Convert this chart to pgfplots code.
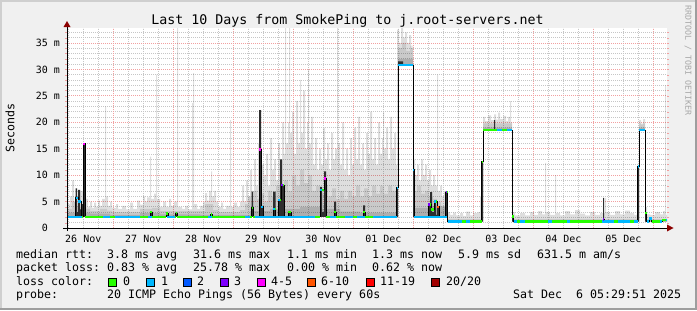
\documentclass[border=0pt]{standalone}
\usepackage{pgfplots}
\pgfplotsset{compat=1.18}
\usepackage{pgfplotstable}
\usepgfplotslibrary{fillbetween}
\usetikzlibrary{arrows.meta}
\usepackage{fontspec}
\setmainfont{DejaVu Sans Mono}
\newfontfamily\mono{DejaVu Sans Mono}
\newcommand\legfont{\mono\fontsize{11.63bp}{13bp}\selectfont}
\newcommand\titfont{\mono\fontsize{13.29bp}{15bp}\selectfont}
\newcommand\tickfont{\mono\fontsize{9.97bp}{11bp}\selectfont}
\newcommand\wmfont{\mono\fontsize{8.3bp}{9bp}\selectfont}

\definecolor{backc}{HTML}{F0F0F0}
\definecolor{shadea}{HTML}{CFCFCF}
\definecolor{shadeb}{HTML}{9E9E9E}
\definecolor{mgridc}{HTML}{F2A0A0}
\definecolor{gridc}{HTML}{C6C6C6}
\definecolor{arrowc}{HTML}{8B0000}
\definecolor{smokeD}{HTML}{2E2E2E}
\definecolor{loss0}{HTML}{26FF00}
\definecolor{loss1}{HTML}{00B8FF}
\definecolor{loss2}{HTML}{0059FF}
\definecolor{loss3}{HTML}{7E00FF}
\definecolor{loss5}{HTML}{FF00FF}
\definecolor{loss10}{HTML}{FF5500}
\definecolor{loss19}{HTML}{FF0000}
\definecolor{loss20}{HTML}{A10000}
\definecolor{wmc}{HTML}{A8A8A8}
\pagecolor{backc}

% x = hours since Nov 26 05:30, y = ms
% floor of the smoke
\pgfplotstableread{
x y
0 2.1
132.4 30.8
138.4 2.1
152.2 1.2
166.4 18.5
178 1.2
228.8 18.5
231.2 1.2
240 1.2
}\tB

% lightest smoke (highest pings)
\pgfplotstableread{
x y
0 4.5
1.2 6
2 9
2.8 5
3.2 6
5.2 7
6.4 6
7.6 5.5
8.4 4
9.2 5
10 3.8
10.8 4.8
11.6 4
12.4 5.2
13.2 4.2
14 5.5
15.2 23
15.6 6
16.4 4.2
17.2 5
18 3.8
19.6 4.5
20.4 3.6
22 4.2
23.6 3.5
25.2 4.8
26.4 3.6
28 5.2
29.2 4.4
30.4 6
31.2 5
32 5.8
33.2 13.5
33.6 5.5
34.8 6.5
35.6 29
36 5.5
37.2 4
38.4 5
39.6 4
40.8 5.5
41.6 4.2
42.8 5
44 37.8
44.4 4
46 3.6
47.2 4.2
48.4 3.5
50 23.6
50.4 29.3
50.8 4.5
52 3.6
53.2 4.2
54.4 5
55.2 6.6
56 5.2
56.8 7
57.6 10.7
58 6
58.8 7
59.6 5
60.4 4
61.6 4.8
62.4 3.6
63.6 4.2
65.2 20.4
65.6 4
66.8 4.8
68 4
69.2 5
70 8
70.8 5
71.6 9
72.4 6
73.2 11
74 7
74.8 13
75.6 8
76.4 16
77.2 9
78 12
78.8 10
79.6 14
80.4 8
81.2 17
82 11
82.8 13
83.6 9
84.4 16
85.2 12
86 20
86.8 14
87.2 37.8
87.6 16
88.4 20
88.8 37.8
89.2 18
90 22
90.8 14
91.6 24
92.4 16
93.2 28
93.6 18
94.4 26
95.2 15
96 20
96.4 30
96.8 16
97.6 21
98.4 12
99.2 17
100 11
100.8 15
101.6 12
102.4 19
103.2 13
104 16
104.8 11
105.6 18
106.4 13
107.2 15
108 37.8
108.4 16
109.2 12
110 20
110.8 11
111.6 15
112.4 10
113.2 17
114 12
114.8 19
115.6 13
116.4 21
117.2 12
118 16
118.8 11
119.6 18
120.4 14
121.2 22
122 13
122.8 17
123.6 12
124.4 20
125.2 14
126 17
126.4 22
126.8 15
127.6 19
128.4 13
129.2 21
130 15
130.8 18
131.6 12
132 37.5
132.8 35
133.6 37.8
134.4 36
135.2 37
136 35
136.8 36.5
137.6 34
138.4 13
139.2 10
140 12
140.8 9
141.6 13
142.4 10
143.2 12
144 9
144.8 11
145.6 8
146.4 10
147.2 8
148 29
148.4 7
149.2 8
150 6
150.8 7
151.6 5
152.2 3
153.2 2.5
154.4 2.9
155.6 2.4
157.2 2.8
158.4 2.3
159.6 3.1
161.2 2.4
162.4 2.8
164.4 3
165.2 6
166 12.5
166.4 21
167.2 20.2
168.4 21.3
169.6 20.4
170.8 21.5
171.6 20.5
172.4 21.8
173.2 20.6
174.4 21.2
175.6 20.2
176.4 21
177.2 24
177.6 20
178 3
179.2 2.4
181.2 2.8
183.2 2.4
185.2 3
186.8 2.5
188.4 3.2
190 2.6
191.2 12.3
191.6 3
193.2 2.5
195.2 10
195.6 2.8
197.2 2.4
199.2 3.2
201.2 2.6
203.2 3.4
205.2 2.7
207.2 2.4
209.2 3
211.2 2.5
213.2 2.8
215.2 5.7
215.6 3
217.2 2.5
219.2 3.2
221.2 2.6
223.2 3.3
225.2 2.8
226.8 2.5
228 5
228.4 12
228.8 20.4
229.6 19.6
230.4 20.6
231.2 4
232 2.6
233.2 2.5
235.2 3
237.2 2.6
238.4 3.2
239.2 27
239.6 2.5
240 2.5
}\tLL

% light smoke
\pgfplotstableread{
x y
0 3.6
2 5
3.2 4
7.6 3.6
9.2 3.2
13.2 3.6
16 3.3
18 3
29.2 3.6
34 3.8
37.2 3.2
53.2 3.2
55.2 4.5
58.4 3.4
60.4 3
69.2 3.4
71.2 4.5
72.4 6
73.6 5
74.8 7
76 5.5
77.2 6.5
78.8 5
80.4 7
82 6
83.6 8
85.2 6.5
86.8 9
88.4 7
90 10
91.6 8
93.2 11
94.8 8.5
96.4 10
98 7
99.6 8
101.2 6.5
102.8 8
104.4 6
106 7.5
107.6 5.5
109.2 7
110.8 5.5
112.4 7
114 6
115.6 8
117.2 6
118.8 7.5
120.4 6
122 8
123.6 6.5
125.2 8
126.8 6.5
128.4 8
130 7
131.6 6
132.4 34
134 35
135.6 33.5
137.2 34.5
138.4 7
140 8
141.6 6.5
143.2 7
144.8 6
146.4 5.5
148 5
149.6 4
151.2 3.5
152.2 1.7
166.4 19.8
178 1.7
228.8 19.8
231.2 1.7
240 1.7
}\tL

% mid smoke near median
\pgfplotstableread{
x y
0 2.9
9.2 2.7
17.2 2.5
29.2 2.8
37.2 2.6
53.2 2.5
73.2 3.2
81.2 3.6
93.2 4.0
101.2 3.6
109.2 3.1
117.2 2.9
132.4 32
138.4 3.8
145.2 4.2
152.2 1.5
166.4 19
178 1.5
228.8 19
231.2 1.5
240 1.5
}\tM

% dark smoke
\pgfplotstableread{
x y
0 2.1
3.4 7.5
4 3
4.4 7.2
5.2 3.5
5.6 4.5
6.4 16
7.2 2.1
33.2 3.2
34 2.1
39.6 2.8
40.4 2.1
43.4 2.8
44 2.1
57.4 2.6
58 2.1
73.8 6.9
74.4 2.1
76.8 22.3
77.6 4.2
78.4 2.1
82.4 6.9
83.4 2.1
84.4 5.3
85.2 13
86 8.1
86.8 2.1
88.4 3
89.6 2.1
101.2 7.8
102 3
102.8 10.7
103.6 2.1
106.8 5
107.6 2.1
118.4 4.3
119.2 2.1
131.8 7.6
132.4 31.5
134.4 30.8
138.4 11
138.8 2.1
144.4 4.5
145.2 6.8
146 3
146.8 5
147.6 2.5
148 4
148.8 2.1
151.4 6.8
152.2 1.2
165.8 12.5
166.4 18.5
170.8 20.4
171.2 18.5
178 2.2
178.6 1.2
214.4 5.7
214.8 1.2
228.2 11.6
228.8 18.5
231.2 2.8
231.8 1.2
240 1.2
}\tD

% median rtt
\pgfplotstableread{
x y
0 2.1
3.4 5.7
4.4 5.0
5.6 2.1
6.4 15.9
7.2 2.1
33.2 3
34 2.1
39.6 2.7
40.4 2.1
43.4 2.8
44 2.1
57.4 2.6
58 2.1
73.8 3.8
74.4 2.1
76.8 14.8
77.6 4
78.4 2.1
82.4 3.6
83.4 2.1
84.4 5.3
85.6 8.1
86.8 2.1
88.4 3
89.6 2.1
101.2 7.2
102.8 9.4
103.6 2.1
106.8 3
107.6 2.1
118.4 3
119.2 2.1
131.8 7.6
132.4 30.8
138.4 11
138.8 2.1
144.4 4.5
145.6 3.5
146.8 5
148 4
148.8 2.1
151.4 6.8
152.2 1.2
165.8 12.5
166.4 18.5
178 2.2
178.6 1.2
214.4 1.6
214.8 1.2
228.2 11.6
228.8 18.5
231.2 2.8
231.8 1.2
232.8 1.8
233.8 1.2
238 1.5
240 1.5
}\tMed

% median segments with 1 lost ping
\pgfplotstableread{
x y
0 2.1
6 2.1
6 nan
3.4 5.7
4.2 5.7
4.2 nan
4.4 5.0
5.4 5.0
5.4 nan
14.4 2.1
17.2 2.1
17.2 nan
19.2 2.1
29.2 2.1
29.2 nan
32.4 2.1
34 2.1
34 nan
40 2.1
43.2 2.1
43.2 nan
56.4 2.1
58 2.1
58 nan
71.2 2.1
73.2 2.1
73.2 nan
75.2 2.1
99.2 2.1
99.2 nan
77.6 4
78.2 4
78.2 nan
82.4 3.6
83.2 3.6
83.2 nan
84.4 5.3
85.2 5.3
85.2 nan
101.2 7.2
102 7.2
102 nan
105.2 2.1
107.6 2.1
107.6 nan
111.2 2.1
114.4 2.1
114.4 nan
116 2.1
119.2 2.1
119.2 nan
122.4 2.1
131.8 2.1
131.8 nan
131.8 7.6
132.4 7.6
132.4 nan
132.4 30.8
138.4 30.8
138.4 nan
138.4 11
138.8 11
138.8 nan
138.8 2.1
152 2.1
152 nan
146.8 5
147.6 5
147.6 nan
152.2 1.2
158 1.2
158 nan
159.6 1.2
161.2 1.2
161.2 nan
172 18.5
174 18.5
174 nan
176 18.5
178 18.5
178 nan
178.6 1.2
180 1.2
180 nan
181.2 1.2
183.2 1.2
183.2 nan
192.4 1.2
194 1.2
194 nan
200 1.2
201.2 1.2
201.2 nan
214 1.2
218.8 1.2
218.8 nan
220.4 1.2
225.2 1.2
225.2 nan
226.8 1.2
228.2 1.2
228.2 nan
228.2 11.6
228.8 11.6
228.8 nan
228.8 18.5
231.2 18.5
231.2 nan
231.8 1.2
232.8 1.2
232.8 nan
232.8 1.8
233.8 1.8
233.8 nan
237.2 1.2
238 1.2
238 nan
239.6 1.5
240 1.5
}\tBlue

\pgfplotstableread{
x y
6.4 15.9
7.2 15.9
7.2 nan
76.8 14.8
77.6 14.8
77.6 nan
102.8 9.4
103.6 9.4
}\tMag

\pgfplotstableread{
x y
85.6 8.1
86.4 8.1
86.4 nan
144.4 4.5
145.2 4.5
145.2 nan
151.4 6.8
152 6.8
152 nan
214.4 1.6
214.8 1.6
}\tPur

\pgfplotstableread{
x y
148 4
148.8 4
}\tOra

\begin{document}
\begin{tikzpicture}[x=1bp,y=1bp]
\fill[shadea] (0,308) rectangle (697,310);
\fill[shadea] (0,0) rectangle (2,310);
\fill[shadeb] (0,0) rectangle (697,2);
\fill[shadeb] (695,0) rectangle (697,310);

\begin{axis}[
  at={(67bp,82bp)}, anchor=south west,
  scale only axis, width=600bp, height=200bp,
  xmin=0, xmax=240, ymin=0, ymax=37.83,
  axis background/.style={fill=white},
  axis line style={draw=none},
  tick align=outside,
  xtick={6.5,30.5,...,222.5},
  xticklabels={26 Nov,27 Nov,28 Nov,29 Nov,30 Nov,01 Dec,02 Dec,03 Dec,04 Dec,05 Dec},
  xtick style={draw=none},
  minor xtick={0.5,6.5,12.5,24.5,30.5,36.5,48.5,54.5,60.5,72.5,78.5,84.5,96.5,102.5,108.5,120.5,126.5,132.5,144.5,150.5,156.5,168.5,174.5,180.5,192.5,198.5,204.5,216.5,222.5,228.5},
  xminorgrids=true,
  extra x ticks={18.5,42.5,...,234.5},
  extra x tick labels={},
  extra x tick style={grid=major},
  ytick={0,5,...,35},
  yticklabels={0\phantom{xx},5 m,10 m,15 m,20 m,25 m,30 m,35 m},
  minor ytick={1,2,3,4,6,7,8,9,11,12,13,14,16,17,18,19,21,22,23,24,26,27,28,29,31,32,33,34,36,37},
  ymajorgrids=true, yminorgrids=true,
  major grid style={draw=mgridc, dash pattern=on 1bp off 1bp, line width=0.9bp},
  minor grid style={draw=gridc, dash pattern=on 1bp off 1bp, line width=0.9bp},
  major tick length=2bp, minor tick length=2bp,
  ytick style={draw=mgridc},
  minor tick style={draw=gridc},
  yticklabel style={font=\tickfont, anchor=east, inner sep=0pt, xshift=-5bp},
  xticklabel style={font=\tickfont, anchor=north, inner sep=0pt, yshift=-5bp},
  unbounded coords=jump,
]
\addplot[draw=none, const plot, name path=B, forget plot] table {\tB};
\addplot[draw=none, const plot, name path=LL, forget plot] table {\tLL};
\addplot[draw=none, const plot, name path=L, forget plot] table {\tL};
\addplot[draw=none, const plot, name path=M, forget plot] table {\tM};
\addplot[draw=none, const plot, name path=D, forget plot] table {\tD};
\addplot[fill=black, fill opacity=0.13, draw=none] fill between[of=LL and B];
\addplot[fill=black, fill opacity=0.09, draw=none] fill between[of=L and B];
\addplot[fill=black, fill opacity=0.13, draw=none] fill between[of=M and B];
\addplot[fill=smokeD, draw=none] fill between[of=D and B];
\addplot[black, line width=1bp, const plot, forget plot] table {\tMed};
\addplot[loss0, line width=2.6bp, jump mark left, forget plot] table {\tMed};
\addplot[loss1, line width=2.6bp, forget plot] table {\tBlue};
\addplot[loss5, line width=2.6bp, forget plot] table {\tMag};
\addplot[loss3, line width=2.6bp, forget plot] table {\tPur};
\addplot[loss10, line width=2.6bp, forget plot] table {\tOra};
\end{axis}

% axis lines with arrows
\draw[black, line width=1bp] (67,79) -- (67,284);
\draw[black, line width=1bp] (63,82) -- (668,82);
\fill[arrowc] (63.5,283) -- (70.5,283) -- (67,289) -- cycle;
\fill[arrowc] (667,78.5) -- (667,85.5) -- (673.5,82) -- cycle;

% title
\node[anchor=base, inner sep=0pt, font=\titfont] at (347.5,286) {Last 10 Days from SmokePing to j.root-servers.net};
% y label
\node[rotate=90, anchor=center, inner sep=0pt, font=\legfont] at (10,182) {Seconds};
% watermark
\node[rotate=-90, anchor=west, inner sep=0pt, font=\wmfont, text=wmc] at (688,305) {RRDTOOL / TOBI OETIKER};

% legend
\begin{scope}[every node/.style={anchor=base west, inner sep=0pt, font=\legfont}]
\node at (16,51.7) {median rtt:};
\node at (107,51.7) {3.8 ms avg};
\node at (193,51.7) {31.6 ms max};
\node at (287,51.7) {1.1 ms min};
\node at (372,51.7) {1.3 ms now};
\node at (458,51.7) {5.9 ms sd};
\node at (537,51.7) {631.5 m am/s};
\node at (16,38.3) {packet loss:};
\node at (107,38.3) {0.83 \% avg};
\node at (193,38.3) {25.78 \% max};
\node at (287,38.3) {0.00 \% min};
\node at (372,38.3) {0.62 \% now};
\node at (16,24.9) {loss color:};
\node at (123,24.9) {0};
\node at (161,24.9) {1};
\node at (197,24.9) {2};
\node at (234,24.9) {3};
\node at (271,24.9) {4-5};
\node at (321,24.9) {6-10};
\node at (380,24.9) {11-19};
\node at (446,24.9) {20/20};
\node at (16,11.5) {probe:};
\node at (107,11.5) {20 ICMP Echo Pings (56 Bytes) every 60s};
\node at (513,11.5) {Sat Dec\ \ 6 05:29:51 2025};
\end{scope}
\begin{scope}[line width=0.8bp]
\filldraw[fill=loss0, draw=black] (108.5,23.5) rectangle (116.5,31.5);
\filldraw[fill=loss1, draw=black] (146.5,23.5) rectangle (154.5,31.5);
\filldraw[fill=loss2, draw=black] (183.5,23.5) rectangle (191.5,31.5);
\filldraw[fill=loss3, draw=black] (220.5,23.5) rectangle (228.5,31.5);
\filldraw[fill=loss5, draw=black] (257.5,23.5) rectangle (265.5,31.5);
\filldraw[fill=loss10, draw=black] (307.5,23.5) rectangle (315.5,31.5);
\filldraw[fill=loss19, draw=black] (366.5,23.5) rectangle (374.5,31.5);
\filldraw[fill=loss20, draw=black] (431.5,23.5) rectangle (439.5,31.5);
\end{scope}
\pgfresetboundingbox
\path[use as bounding box] (0,0) rectangle (697,310);
\end{tikzpicture}
\end{document}
